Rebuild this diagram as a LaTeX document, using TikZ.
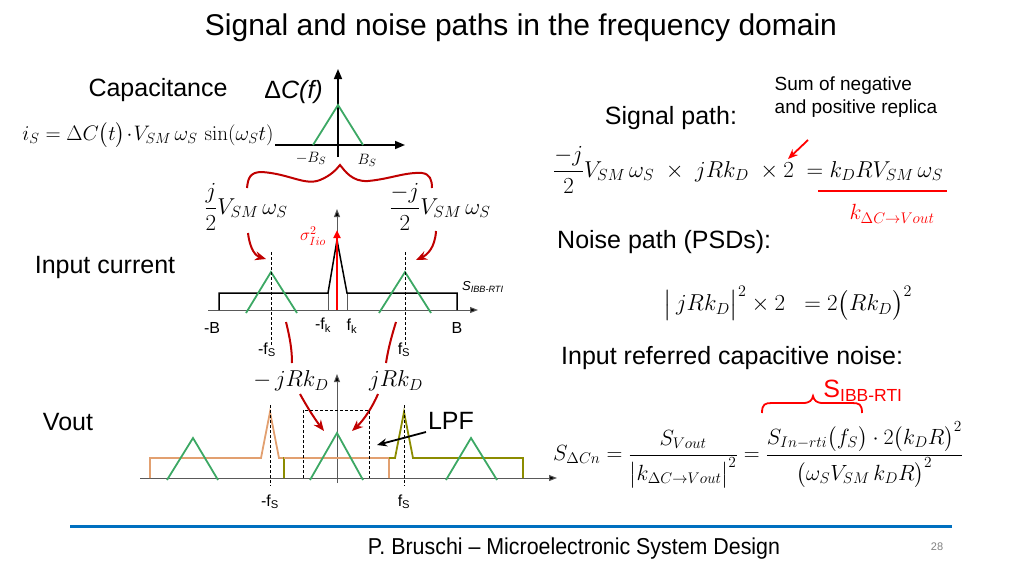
\RequirePackage{fix-cm}
\documentclass[tikz,border=0pt]{standalone}
\usepackage{amsmath}
\usepackage[no-math]{fontspec}
\setmainfont{Liberation Sans}
\usetikzlibrary{arrows.meta}
\definecolor{grn}{RGB}{60,168,100}
\definecolor{dred}{RGB}{192,0,0}
\definecolor{brt}{RGB}{255,0,0}
\definecolor{tan}{RGB}{226,160,112}
\definecolor{olv}{RGB}{140,140,0}
\definecolor{fblue}{RGB}{0,112,192}
\tikzset{
  txt/.style={inner sep=0pt, font=\fontsize{25}{28}\selectfont},
  smalltxt/.style={inner sep=0pt, font=\fontsize{19}{23}\selectfont, align=left},
  lbl/.style={inner sep=0pt, font=\fontsize{16}{18}\selectfont},
  mth/.style={inner sep=0pt, font=\fontsize{23}{26}\selectfont},
  mthb/.style={inner sep=0pt, font=\fontsize{22}{25}\selectfont},
  mtha/.style={inner sep=0pt, font=\fontsize{21}{24}\selectfont},
  mths/.style={inner sep=0pt, font=\fontsize{15}{17}\selectfont},
  axthick/.style={line width=1.6pt, -{Triangle[length=10pt,width=8pt]}},
  axthin/.style={draw=black!65, line width=1pt, -{Triangle[length=8pt,width=6pt,fill=black]}},
  grnline/.style={draw=grn, line width=1.8pt},
  blkline/.style={draw=black, line width=1.5pt},
  dashln/.style={draw=black, line width=0.8pt, dash pattern=on 3pt off 2pt},
  redarr/.style={draw=dred, line width=2pt, -{Stealth[length=11pt,width=9pt]}},
  redcurve/.style={draw=dred, line width=2pt},
  bracestyle/.style={draw=dred, line width=2pt},
}
\begin{document}
\begin{tikzpicture}[x=1pt,y=-1pt]
\useasboundingbox (0,0) rectangle (1024,576);
% title
\node[inner sep=0pt, font=\fontsize{30}{34}\selectfont] (title) at (521,28) {Signal and noise paths in the frequency domain};

% ---------- top plot ----------
\node[txt] (cap) at (158,90) {Capacitance};
\node[txt, anchor=east] (dcf) at (323,92) {Δ\textit{C(f)}};
\coordinate (tx0) at (275,145); \coordinate (tx1) at (405,145);
\coordinate (ty0) at (338,157); \coordinate (ty1) at (338,69);
\draw[axthick] (tx0) -- (tx1);
\draw[axthick] (ty0) -- (ty1);
\coordinate (tgl) at (313,145); \coordinate (tgp) at (338,105); \coordinate (tgr) at (363,145);
\draw[grnline] (tgl) -- (tgp) -- (tgr);
\node[mths] (mbs) at (311,158) {$-B_S$};
\node[mths] (pbs) at (367,160) {$B_S$};
\node[mtha] (ieq) at (148,135) {$i_S=\Delta C\big(t\big)\!\cdot\! V_{SM}\,\omega_S\,\sin(\omega_S t)$};

% brace
\coordinate (bl) at (247,188); \coordinate (bc) at (340,165); \coordinate (br) at (432,188);
\draw[bracestyle] (bl) .. controls (248,178) and (250,172) .. (262,172)
  .. controls (290,174) and (305,186) .. (320,180)
  .. controls (330,176) and (336,170) .. (bc)
  .. controls (345,171) and (352,182) .. (368,181)
  .. controls (390,179) and (405,172) .. (422,173)
  .. controls (430,174) and (432,180) .. (br);

\node[mth] (fl) at (246,207) {$\dfrac{j}{2}V_{SM}\,\omega_S$};
\node[mth] (fr) at (440,207) {$\dfrac{-j}{2}V_{SM}\,\omega_S$};

% ---------- middle plot ----------
\node[txt] (inc) at (105,267) {Input current};
\coordinate (mx0) at (208,310); \coordinate (mx1) at (478,310);
\coordinate (my0) at (337,310); \coordinate (my1) at (337,209);
\draw[axthin] (mx0) -- (mx1);
\draw[axthin] (my0) -- (my1);
\draw[draw=black!65, line width=1pt] (328,293) -- (328,310) (347,293) -- (347,310);
\draw[blkline] (219,310) -- (219,293) -- (328,293) -- (337,240) -- (347,293) -- (457,293) -- (457,310);
\draw[grnline] (246,313) -- (271,272) -- (297,313);
\draw[grnline] (379,313) -- (405,272) -- (431,313);
\draw[dashln] (271,252) -- (271,345);
\draw[dashln] (405,252) -- (405,345);
\draw[draw=brt, line width=2.2pt, -{Triangle[length=8pt,width=7pt]}] (my0) -- (337,230);
\node[inner sep=0pt, text=brt, font=\fontsize{17}{19}\selectfont] (sig) at (313,236) {$\sigma^2_{Iio}$};
\node[inner sep=0pt, font=\fontsize{13}{15}\selectfont, anchor=west] (sibb) at (462,287) {\textit{S}\textsubscript{\textit{IBB-RTI}}};
\node[lbl] (mb) at (212,328) {-B};
\node[lbl] (mfk) at (323,325) {-f\textsubscript{k}};
\node[lbl] (pfk) at (352,326) {f\textsubscript{k}};
\node[lbl] (pb) at (457,328) {B};
\node[lbl] (mfs) at (267,350) {-f\textsubscript{S}};
\node[lbl] (pfs) at (404,350) {f\textsubscript{S}};

% arrows top -> middle
\draw[redarr] (248,233) .. controls (250,250) and (256,256) .. (266,259);
\draw[redarr] (436,231) .. controls (435,248) and (427,255) .. (416,260);

% middle -> bottom
\node[mth] (mjr) at (291,381) {$-\,jRk_D$};
\node[mth] (pjr) at (396,381) {$jRk_D$};
\draw[redcurve] (286,322) .. controls (290,338) and (292,350) .. (292,363);
\draw[redcurve] (396,322) .. controls (391,338) and (388,350) .. (386,363);
\draw[redarr] (300,394) .. controls (306,405) and (314,418) .. (324,431);
\draw[redarr] (378,394) .. controls (373,406) and (364,420) .. (352,431);

% ---------- bottom plot ----------
\node[txt] (vout) at (68,422) {Vout};
\coordinate (bx0) at (140,478); \coordinate (bx1) at (557,478);
\coordinate (by0) at (337,483); \coordinate (by1) at (337,374);
\draw[axthin] (bx0) -- (bx1);
\draw[axthin] (by0) -- (by1);
\draw[draw=tan, line width=1.8pt] (150,478) -- (150,458) -- (261,458) -- (270,412) -- (279,458) -- (389,458) -- (389,478);
\draw[draw=olv, line width=1.8pt] (284,478) -- (284,458) -- (395,458) -- (404,412) -- (413,458) -- (523,458) -- (523,478);
\draw[draw=tan, line width=1.8pt] (284,458) -- (389,458);
\draw[grnline] (167,480) -- (193,438) -- (218,480);
\draw[grnline] (310,480) -- (337,433) -- (363,480);
\draw[grnline] (446,480) -- (471,438) -- (497,480);
\draw[dashln] (303,478) -- (303,410) -- (369,410) -- (369,478);
\draw[dashln] (270,405) -- (270,486);
\draw[dashln] (404,405) -- (404,486);
\node[lbl] (bmfs) at (270,502) {-f\textsubscript{S}};
\node[lbl] (bpfs) at (404,502) {f\textsubscript{S}};
\node[txt] (lpf) at (451,421) {LPF};
\coordinate (lpfa) at (377,445);
\draw[line width=1.8pt, -{Stealth[length=10pt,width=8pt]}] (426,432) -- (lpfa);

% ---------- right side ----------
\node[txt] (sp) at (671,118) {Signal path:};
\node[smalltxt] (sum) at (856,97) {Sum of negative\\and positive replica};
\draw[draw=brt, line width=1.8pt, -{Stealth[length=10pt,width=8pt]}] (808,140) -- (788,159);
\node[mth, anchor=west] (seq) at (553,170) {$\dfrac{-j}{2}V_{SM}\,\omega_S\;\times\; jRk_D\;\times 2\;=k_DRV_{SM}\,\omega_S$};
\draw[draw=brt, line width=2.2pt] (818,191) -- (947,191);
\node[inner sep=0pt, text=brt, font=\fontsize{22}{24}\selectfont] (kdc) at (892,214) {$k_{\Delta C\to Vout}$};
\node[txt, anchor=west] (np) at (557,242) {Noise path (PSDs):};
\node[mth] (neq) at (788,303) {$\big|\, jRk_D\big|^2\times 2\;\;=2\big(Rk_D\big)^2$};
\node[txt, anchor=west] (irn) at (561,358) {Input referred capacitive noise:};
\node[inner sep=0pt, text=brt, font=\fontsize{25}{28}\selectfont] (sibr) at (863,391) {S\textsubscript{IBB-RTI}};
\draw[draw=brt, line width=1.8pt] (762,413) .. controls (762,404) and (765,403) .. (772,403)
  -- (803,403) .. controls (810,403) and (812,400) .. (813,396)
  .. controls (814,400) and (816,403) .. (823,403)
  -- (852,403) .. controls (859,403) and (862,404) .. (862,413);
\node[mthb, anchor=west] (beq) at (553,455) {$S_{\Delta Cn}=\dfrac{S_{Vout}}{\big|k_{\Delta C\to Vout}\big|^2}=\dfrac{S_{In{-}rti}\big(f_S\big)\cdot 2\big(k_DR\big)^2}{\big(\omega_S V_{SM}\,k_DR\big)^2}$};

% footer
\coordinate (fl0) at (70,526); \coordinate (fl1) at (952,526);
\draw[draw=fblue, line width=3pt] (fl0) -- (fl1);
\node[inner sep=0pt, font=\fontsize{23}{26}\selectfont, xscale=0.93] (foot) at (574,549) {P. Bruschi – Microelectronic System Design};
\node[inner sep=0pt, text=black!50, font=\fontsize{11}{13}\selectfont] (pg) at (937,547) {28};
\end{tikzpicture}
\end{document}
